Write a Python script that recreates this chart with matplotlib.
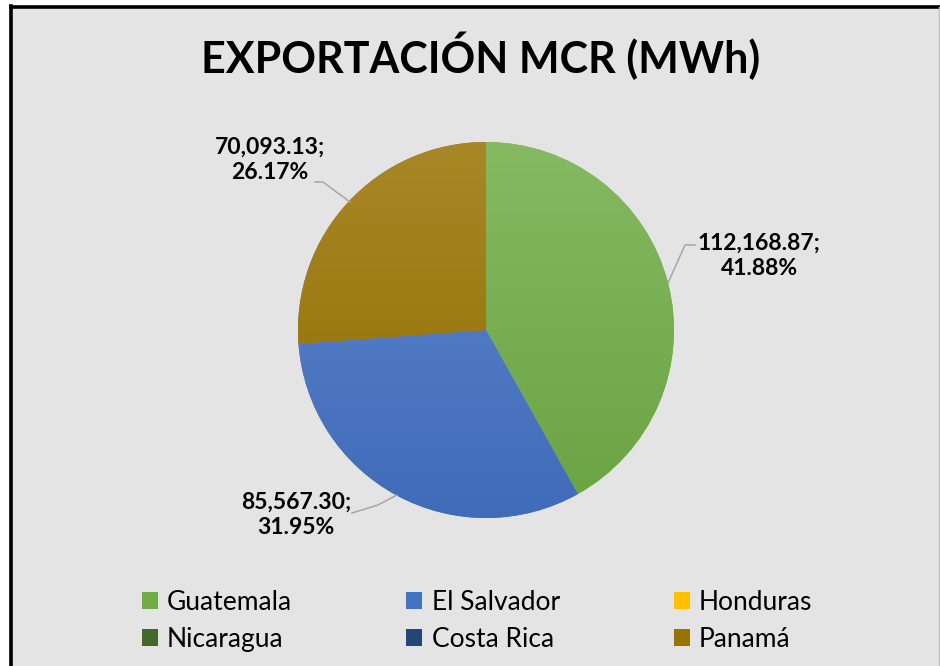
import numpy as np
import matplotlib
matplotlib.use('Agg')
from matplotlib import pyplot as plt
from matplotlib import colors
from matplotlib.patches import Rectangle, Patch

plt.rcParams['font.family'] = ['Lato', 'DejaVu Sans']

# data
countries = ['Guatemala', 'El Salvador', 'Honduras', 'Nicaragua', 'Costa Rica', 'Panamá']
mwh = [112168.87, 85567.30, 0.0, 0.0, 0.0, 70093.13]
base_colors = ['#70ad47', '#4472c4', '#ffc000', '#43682b', '#264478', '#997300']
title = 'EXPORTACIÓN MCR (MWh)'

W, H = 940, 666
fig = plt.figure(figsize=(W / 100, H / 100), dpi=100)
fig.patch.set_facecolor('white')

# full-figure axes in pixel units (y down)
ax = fig.add_axes([0, 0, 1, 1])

cx, cy, r = 486, 330, 188
vals = np.array(mwh)
idx = [i for i, v in enumerate(vals) if v > 0]
# y axis gets inverted below -> startangle -90 is the top, counterclock is clockwise on screen
wedges, _ = ax.pie(vals[idx], colors=[base_colors[i] for i in idx], startangle=-90,
                   counterclock=True, center=(cx, cy), radius=r, frame=True,
                   wedgeprops=dict(linewidth=0, zorder=2))
ax.set_xlim(0, W)
ax.set_ylim(H, 0)
ax.set_aspect('equal')
ax.axis('off')

# chart area background + border (left/top visible)
ax.add_patch(Rectangle((10.5, 7), W, H, facecolor='#e4e4e4', edgecolor='none', zorder=0))
ax.plot([10.5, 10.5], [H, 6], color='black', lw=2.6, zorder=1, solid_capstyle='projecting')
ax.plot([10.5, W], [7, 7], color='black', lw=2.6, zorder=1, solid_capstyle='projecting')
ax.plot([W - 1, W - 1], [7, H], color='#bdbdbd', lw=1, zorder=1)

ax.text(481, 56, title, ha='center', va='center', fontsize=31, fontweight='bold', color='black')


def shade(c, f):
    rgb = np.array(colors.to_rgb(c))
    if f > 0:
        return rgb + (1 - rgb) * f
    return rgb * (1 + f)


# vertical gradient fill for each wedge (lighter top, darker bottom)
for w, i in zip(wedges, idx):
    top = shade(base_colors[i], 0.15)
    bot = shade(base_colors[i], -0.06)
    t = np.linspace(0, 1, 256)[:, None]
    grad = top[None, :] * (1 - t) + bot[None, :] * t
    grad = np.repeat(grad[:, None, :], 2, axis=1)
    im = ax.imshow(grad, extent=(cx - r, cx + r, cy + r, cy - r), aspect='auto',
                   interpolation='bilinear', zorder=2.5)
    im.set_clip_path(w)
ax.set_xlim(0, W)
ax.set_ylim(H, 0)

total = vals.sum()
label_pos = {0: (759, 256), 1: (296, 515), 5: (270, 160)}
leader = {0: [(695, 245), (685, 245), (668, 283)],
          1: [(352, 513), (378, 505), (397, 495)],
          5: [(315, 182), (323, 182), (350, 202)]}
for i in idx:
    txt = '{:,.2f};\n{:.2f}%'.format(vals[i], vals[i] / total * 100)
    x, y = label_pos[i]
    ax.text(x, y, txt, ha='center', va='center', fontsize=16.5, fontweight='bold',
            color='black', linespacing=1.22, zorder=4)
    pts = np.array(leader[i])
    ax.plot(pts[:, 0], pts[:, 1], color='#a6a6a6', lw=1.1, zorder=3)

# legend, row-wise order
order = [0, 3, 1, 4, 2, 5]
handles = [Patch(facecolor=base_colors[i], edgecolor='none') for i in order]
labels = [countries[i] for i in order]
fig.legend(handles, labels, ncol=3, loc='upper left', bbox_to_anchor=(142 / W, 1 - 590 / H),
           frameon=False, fontsize=19, handlelength=0.6, handleheight=0.6,
           handletextpad=0.35, columnspacing=4.33, labelspacing=0.45,
           borderpad=0, borderaxespad=0)

fig.savefig('out.png', dpi=100, facecolor=fig.get_facecolor())
